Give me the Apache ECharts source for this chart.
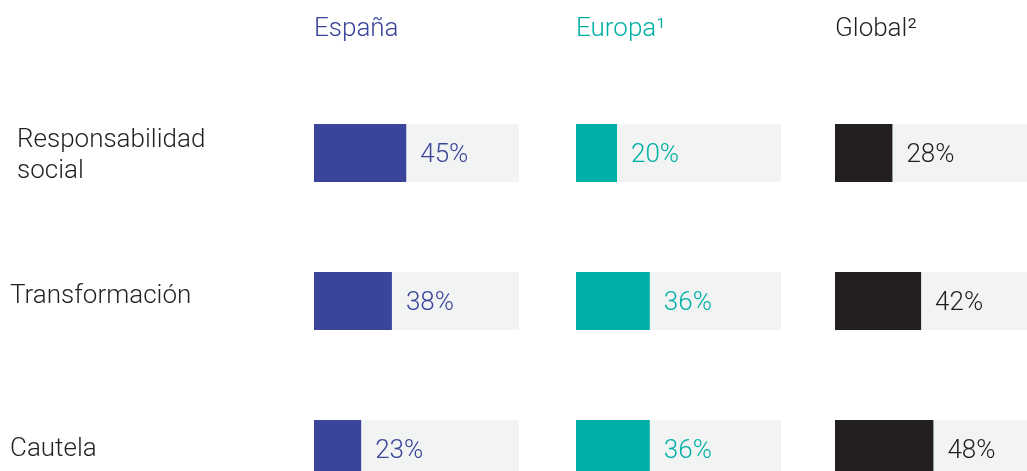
<!DOCTYPE html>
<html>
<head>
<meta charset="utf-8">
<script src="https://cdn.jsdelivr.net/npm/echarts@6/dist/echarts.min.js"></script>
<style>
  html, body { margin: 0; padding: 0; background: #fff; overflow: hidden; }
  /* the last row and the Global panel run past the picture edge */
  #main { width: 1060px; height: 540px; }
</style>
</head>
<body>
<div id="main"></div>
<script>
// categorias y valores (%)
var categories = ['Responsabilidad\nsocial', 'Transformación', 'Cautela'];
var regions = ['España', 'Europa¹', 'Global²'];
var spainValues = [45, 38, 23];
var europeValues = [20, 36, 36];
var globalValues = [28, 42, 48];
var regionColors = ['#39449a', '#00afa5', '#231f20'];

var FONT = 'Roboto';
var FS = 26;
var panelLeft = [314, 576, 835];
var panelWidth = 205;

function makeGrid(i) {
    return { left: panelLeft[i], width: panelWidth, top: 79, height: 444 };
}

function makeX(i) {
    return { gridIndex: i, type: 'value', min: 0, max: 100, show: false };
}

function makeY(i) {
    var y = {
        gridIndex: i, type: 'category', data: categories, inverse: true,
        axisLine: { show: false }, axisTick: { show: false },
        axisLabel: { show: false }
    };
    if (i == 0) {
        y.axisLabel = {
            show: true,
            align: 'left',
            margin: 304,
            fontFamily: FONT,
            fontWeight: 300,
            fontSize: FS,
            lineHeight: 31,
            color: '#231f20',
            formatter: function (v, idx) {
                if (idx == 0) return '{a|' + v + '}';
                if (idx == 1) return '{b|' + v + '}';
                return v;
            },
            rich: {
                a: { padding: [6, 0, 0, 7], fontFamily: FONT, fontWeight: 300, fontSize: FS, lineHeight: 31, color: '#231f20' },
                b: { padding: [0, 0, 10, 0], fontFamily: FONT, fontWeight: 300, fontSize: FS, lineHeight: 31, color: '#231f20' }
            }
        };
    }
    return y;
}

function makeSeries(i, values) {
    return {
        type: 'bar',
        xAxisIndex: i,
        yAxisIndex: i,
        data: values,
        barWidth: 58,
        itemStyle: { color: regionColors[i] },
        showBackground: true,
        backgroundStyle: { color: '#f2f4f4' },
        label: {
            show: true,
            position: 'right',
            distance: 14,
            offset: [0, 2],
            formatter: '{c}%',
            fontFamily: FONT,
            fontWeight: 300,
            fontSize: FS,
            color: regionColors[i]
        },
        silent: true
    };
}

var chart = echarts.init(document.getElementById('main'));
var titles = [];
for (var i = 0; i < regions.length; i++) {
    titles.push({
        text: regions[i],
        left: panelLeft[i] - 5,
        top: 11,
        textStyle: { fontFamily: FONT, fontWeight: 300, fontSize: FS, color: regionColors[i] }
    });
}

var option = {
    backgroundColor: '#fff',
    animation: false,
    title: titles,
    grid: [makeGrid(0), makeGrid(1), makeGrid(2)],
    xAxis: [makeX(0), makeX(1), makeX(2)],
    yAxis: [makeY(0), makeY(1), makeY(2)],
    series: [
        makeSeries(0, spainValues),
        makeSeries(1, europeValues),
        makeSeries(2, globalValues)
    ]
};
chart.setOption(option);
</script>
</body>
</html>
